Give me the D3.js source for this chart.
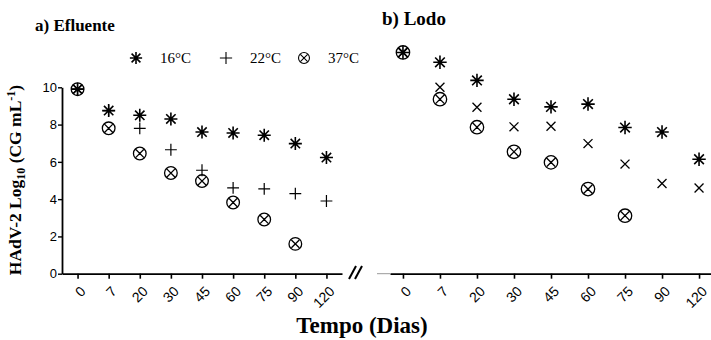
<!DOCTYPE html>
<html>
<head>
<meta charset="utf-8">
<script src="https://cdn.jsdelivr.net/npm/d3@7"></script>
<style>
  body { margin: 0; background: #fff; }
  .tick text { font-family: "Liberation Sans", Arial, sans-serif; fill: #000; }
  .serif { font-family: "Liberation Serif", "Times New Roman", serif; fill: #000; }
</style>
</head>
<body>
<div id="chart"></div>
<script>
// sampling days (categorical)
var days = ['0', '7', '20', '30', '45', '60', '75', '90', '120'];
var yTicks = [0, 2, 4, 6, 8, 10];

// a) Efluente, log10 CG/mL
var efl16 = [9.9, 8.75, 8.5, 8.3, 7.6, 7.55, 7.43, 6.98, 6.23];
var efl22 = [9.9, 8.75, 7.8, 6.65, 5.55, 4.6, 4.55, 4.3, 3.9];
var efl37 = [9.9, 7.8, 6.45, 5.4, 4.97, 3.82, 2.91, 1.6, null];

// b) Lodo
var lodo16 = [11.87, 11.34, 10.37, 9.36, 8.95, 9.1, 7.84, 7.6, 6.14];
var lodo22 = [11.87, 10.0, 8.93, 7.88, 7.91, 6.98, 5.88, 4.84, 4.6];
var lodo37 = [11.87, 9.36, 7.86, 6.54, 5.97, 4.54, 3.11, null, null];

var legendLabels = ['16°C', '22°C', '37°C'];

// custom marker shapes for d3.symbol
var symAsterisk = {
  draw: function(ctx, size) {
    var r = Math.sqrt(size) / 2, d = r * 0.72;
    ctx.moveTo(0, -r); ctx.lineTo(0, r);
    ctx.moveTo(-r, 0); ctx.lineTo(r, 0);
    ctx.moveTo(-d, -d); ctx.lineTo(d, d);
    ctx.moveTo(-d, d); ctx.lineTo(d, -d);
  }
};
var symPlus = {
  draw: function(ctx, size) {
    var r = Math.sqrt(size) / 2;
    ctx.moveTo(0, -r); ctx.lineTo(0, r);
    ctx.moveTo(-r, 0); ctx.lineTo(r, 0);
  }
};
var symCross = {
  draw: function(ctx, size) {
    var r = Math.sqrt(size) / 2;
    ctx.moveTo(-r, -r); ctx.lineTo(r, r);
    ctx.moveTo(-r, r); ctx.lineTo(r, -r);
  }
};
var symCircleX = {
  draw: function(ctx, size) {
    var r = Math.sqrt(size) / 2, d = r * 0.62;
    ctx.moveTo(r, 0); ctx.arc(0, 0, r, 0, 2 * Math.PI);
    ctx.moveTo(-d, -d); ctx.lineTo(d, d);
    ctx.moveTo(-d, d); ctx.lineTo(d, -d);
  }
};

var width = 711, height = 340;
var svg = d3.select('#chart').append('svg')
  .attr('width', width).attr('height', height);

var y = d3.scaleLinear().domain([0, 10]).range([273.7, 87.3]);
var xL = d3.scalePoint().domain(days).range([62, 342]).padding(0.5);
var xR = d3.scalePoint().domain(days).range([390, 712]).padding(0.35);

function drawAxisX(scale) {
  var g = svg.append('g')
    .attr('transform', 'translate(0,' + y(0) + ')')
    .call(d3.axisBottom(scale).tickSize(5).tickSizeOuter(0));
  g.select('.domain').attr('stroke', '#000').attr('stroke-width', 1.8);
  g.selectAll('.tick line').attr('stroke', '#000').attr('stroke-width', 1.6);
  g.selectAll('.tick text')
    .style('font-size', '14px')
    .attr('text-anchor', 'end')
    .attr('transform', 'translate(5,15) rotate(-45)')
    .attr('dy', '0.35em')
    .attr('y', 0).attr('x', 0);
  return g;
}

// left y axis
var gy = svg.append('g')
  .attr('transform', 'translate(62,0)')
  .call(d3.axisLeft(y).tickValues(yTicks).tickSize(4).tickSizeOuter(0));
gy.select('.domain').attr('stroke', '#000').attr('stroke-width', 1.8);
gy.selectAll('.tick line').attr('stroke', '#000').attr('stroke-width', 1.4);
gy.selectAll('.tick text').attr('x', -5).style('font-size', '13px');

drawAxisX(xL);
drawAxisX(xR);

// faint stub left of the second axis
svg.append('line')
  .attr('x1', 377).attr('x2', xR.range()[0])
  .attr('y1', y(0)).attr('y2', y(0))
  .attr('stroke', '#999').attr('stroke-width', 1);

// axis break mark
var brk = svg.append('g').attr('stroke', '#000').attr('stroke-width', 2);
brk.append('line').attr('x1', 349).attr('y1', 279).attr('x2', 356).attr('y2', 266);
brk.append('line').attr('x1', 355).attr('y1', 279).attr('x2', 362).attr('y2', 266);

function drawSeries(scale, values, shape, size, sw) {
  var pts = values.map(function(v, i) { return { day: days[i], v: v }; })
    .filter(function(d) { return d.v !== null; });
  svg.append('g').selectAll('path')
    .data(pts).enter().append('path')
    .attr('transform', function(d) {
      return 'translate(' + scale(d.day) + ',' + y(d.v) + ')';
    })
    .attr('d', d3.symbol().type(shape).size(size))
    .attr('fill', 'none')
    .attr('stroke', '#000')
    .attr('stroke-width', sw);
}

drawSeries(xL, efl37, symCircleX, 160, 1.3);
drawSeries(xL, efl22, symPlus, 140, 1.2);
drawSeries(xL, efl16, symAsterisk, 170, 1.6);

drawSeries(xR, lodo37, symCircleX, 180, 1.3);
drawSeries(xR, lodo22, symCross, 80, 1.3);
drawSeries(xR, lodo16, symAsterisk, 180, 1.6);

// legend
var legShapes = [symAsterisk, symPlus, symCircleX];
var legSizes = [150, 150, 120];
var legX = [136, 226, 304];
legendLabels.forEach(function(lab, i) {
  svg.append('path')
    .attr('transform', 'translate(' + legX[i] + ',58)')
    .attr('d', d3.symbol().type(legShapes[i]).size(legSizes[i]))
    .attr('fill', 'none').attr('stroke', '#000')
    .attr('stroke-width', i === 0 ? 1.6 : 1.1);
  svg.append('text').attr('class', 'serif')
    .attr('x', legX[i] + 24).attr('y', 63)
    .attr('font-size', 15)
    .text(lab);
});

// titles
svg.append('text').attr('class', 'serif')
  .attr('x', 35).attr('y', 31)
  .attr('font-size', 17).attr('font-weight', 'bold')
  .text('a) Efluente');
svg.append('text').attr('class', 'serif')
  .attr('x', 382).attr('y', 25)
  .attr('font-size', 19).attr('font-weight', 'bold')
  .text('b) Lodo');

var yt = svg.append('text').attr('class', 'serif')
  .attr('transform', 'translate(21,180) rotate(-90)')
  .attr('text-anchor', 'middle')
  .attr('font-size', 17.5).attr('font-weight', 'bold');
yt.append('tspan').text('HAdV-2  Log');
yt.append('tspan').attr('font-size', 12).attr('dy', 4).text('10');
yt.append('tspan').attr('dy', -4).text(' (CG mL');
yt.append('tspan').attr('font-size', 12).attr('dy', -6).text('-1');
yt.append('tspan').attr('dy', 6).text(')');

svg.append('text').attr('class', 'serif')
  .attr('x', 362).attr('y', 333)
  .attr('text-anchor', 'middle')
  .attr('font-size', 23).attr('font-weight', 'bold')
  .text('Tempo (Dias)');
</script>
</body>
</html>
